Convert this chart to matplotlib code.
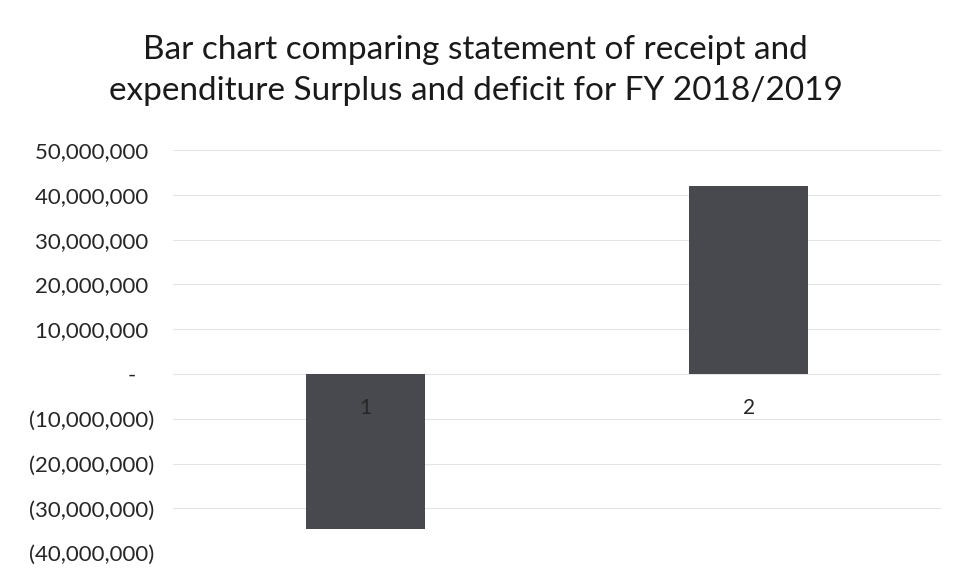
import matplotlib
matplotlib.use("Agg")
from matplotlib import pyplot as plt
from matplotlib.ticker import FuncFormatter

categories = ["1", "2"]
surplus_deficit = [-34700000, 42000000]
y_ticks = [-40000000, -30000000, -20000000, -10000000, 0,
           10000000, 20000000, 30000000, 40000000, 50000000]
title = ("Bar chart comparing statement of receipt and\n"
         "expenditure Surplus and deficit for FY 2018/2019")

plt.rcParams['font.family'] = ['Lato', 'DejaVu Sans']


def accounting(v, pos):
    # Excel style accounting format
    if v == 0:
        return "-   "
    if v < 0:
        return "({:,.0f})".format(-v)
    return "{:,.0f} ".format(v)


fig = plt.figure(figsize=(9.57, 5.75), dpi=100)
ax = fig.add_axes([0.181, 0.038, 0.802, 0.701])

x = list(range(len(categories)))
ax.bar(x, surplus_deficit, width=0.31, color='#48484f', zorder=2)

ax.set_xlim(-0.5, 1.5)
ax.set_ylim(-40000000, 50000000)
ax.set_yticks(y_ticks)
ax.yaxis.set_major_formatter(FuncFormatter(accounting))
ax.set_xticks(x)
ax.set_xticklabels(categories)

# category labels sit next to the zero line, like in Excel
ax.spines['bottom'].set_position(('data', 0))
for s in ['top', 'right', 'left', 'bottom']:
    ax.spines[s].set_visible(False)
ax.xaxis.set_zorder(3)  # so "1" shows on top of the negative bar

ax.grid(axis='y', color='#e4e4e4', linewidth=0.8, zorder=0)
ax.tick_params(axis='y', length=0, labelsize=16, colors='#262626', pad=14)
ax.tick_params(axis='x', length=0, labelsize=15, colors='#262626', pad=17)

fig.text(0.497, 0.878, title, ha='center', va='center', fontsize=24,
         color='#1a1a1a', linespacing=1.45)

fig.savefig("out.png", dpi=100, facecolor='white')
